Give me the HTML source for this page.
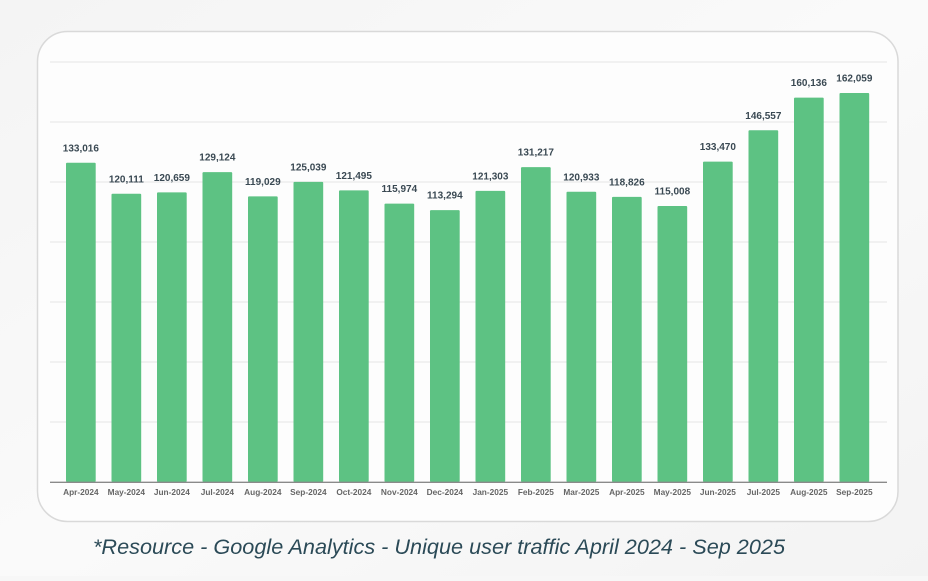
<!DOCTYPE html>
<html><head><meta charset="utf-8"><style>
html,body{margin:0;padding:0;}
body{width:928px;height:576px;overflow:hidden;background:#f7f7f7;font-family:"Liberation Sans",Arial,sans-serif;}
</style></head><body>
<svg width="928" height="576" viewBox="0 0 928 576" xmlns="http://www.w3.org/2000/svg">
<defs>
<linearGradient id="bg" x1="0" y1="0" x2="1" y2="1">
<stop offset="0" stop-color="#f4f4f4"/><stop offset="0.5" stop-color="#fafafa"/><stop offset="1" stop-color="#f3f3f3"/>
</linearGradient>
</defs>
<rect x="0" y="0" width="928" height="576" fill="url(#bg)"/>
<rect x="37.5" y="31.5" width="860.5" height="490" rx="30" ry="30" fill="#fdfdfd" stroke="#d9d9d9" stroke-width="1.5"/>
<g stroke="#e5e5e5" stroke-width="1">
<line x1="50" y1="62" x2="887" y2="62"/>
<line x1="50" y1="122" x2="887" y2="122"/>
<line x1="50" y1="182" x2="887" y2="182"/>
<line x1="50" y1="242" x2="887" y2="242"/>
<line x1="50" y1="302" x2="887" y2="302"/>
<line x1="50" y1="362" x2="887" y2="362"/>
<line x1="50" y1="422" x2="887" y2="422"/>
</g>
<g fill="#5dc283">
<rect x="66" y="162.76" width="29.7" height="319.24" rx="1"/>
<rect x="111.5" y="193.73" width="29.7" height="288.27" rx="1"/>
<rect x="157" y="192.42" width="29.7" height="289.58" rx="1"/>
<rect x="202.5" y="172.10" width="29.7" height="309.90" rx="1"/>
<rect x="248" y="196.33" width="29.7" height="285.67" rx="1"/>
<rect x="293.5" y="181.91" width="29.7" height="300.09" rx="1"/>
<rect x="339" y="190.41" width="29.7" height="291.59" rx="1"/>
<rect x="384.5" y="203.66" width="29.7" height="278.34" rx="1"/>
<rect x="430" y="210.09" width="29.7" height="271.91" rx="1"/>
<rect x="475.5" y="190.87" width="29.7" height="291.13" rx="1"/>
<rect x="521" y="167.08" width="29.7" height="314.92" rx="1"/>
<rect x="566.5" y="191.76" width="29.7" height="290.24" rx="1"/>
<rect x="612" y="196.82" width="29.7" height="285.18" rx="1"/>
<rect x="657.5" y="205.98" width="29.7" height="276.02" rx="1"/>
<rect x="703" y="161.67" width="29.7" height="320.33" rx="1"/>
<rect x="748.5" y="130.26" width="29.7" height="351.74" rx="1"/>
<rect x="794" y="97.67" width="29.7" height="384.33" rx="1"/>
<rect x="839.5" y="93.06" width="29.7" height="388.94" rx="1"/>
</g>
<line x1="50" y1="482.3" x2="887" y2="482.3" stroke="#8a8a8a" stroke-width="1.4"/>
<g font-family="Liberation Sans, Arial, sans-serif" font-weight="bold" font-size="10" fill="#3a4953" text-anchor="middle">
<text x="80.85" y="151.3">133,016</text>
<text x="126.35" y="182.3">120,111</text>
<text x="171.85" y="181">120,659</text>
<text x="217.35" y="160.7">129,124</text>
<text x="262.85" y="184.9">119,029</text>
<text x="308.35" y="170.5">125,039</text>
<text x="353.85" y="179">121,495</text>
<text x="399.35" y="192.2">115,974</text>
<text x="444.85" y="198.7">113,294</text>
<text x="490.35" y="179.4">121,303</text>
<text x="535.85" y="155.6">131,217</text>
<text x="581.35" y="180.3">120,933</text>
<text x="626.85" y="185.4">118,826</text>
<text x="672.35" y="194.5">115,008</text>
<text x="717.85" y="150.2">133,470</text>
<text x="763.35" y="118.8">146,557</text>
<text x="808.85" y="86.2">160,136</text>
<text x="854.35" y="81.6">162,059</text>
</g>
<g font-family="Liberation Sans, Arial, sans-serif" font-weight="bold" font-size="8.3" fill="#666666" text-anchor="middle">
<text x="80.85" y="495">Apr-2024</text>
<text x="126.35" y="495">May-2024</text>
<text x="171.85" y="495">Jun-2024</text>
<text x="217.35" y="495">Jul-2024</text>
<text x="262.85" y="495">Aug-2024</text>
<text x="308.35" y="495">Sep-2024</text>
<text x="353.85" y="495">Oct-2024</text>
<text x="399.35" y="495">Nov-2024</text>
<text x="444.85" y="495">Dec-2024</text>
<text x="490.35" y="495">Jan-2025</text>
<text x="535.85" y="495">Feb-2025</text>
<text x="581.35" y="495">Mar-2025</text>
<text x="626.85" y="495">Apr-2025</text>
<text x="672.35" y="495">May-2025</text>
<text x="717.85" y="495">Jun-2025</text>
<text x="763.35" y="495">Jul-2025</text>
<text x="808.85" y="495">Aug-2025</text>
<text x="854.35" y="495">Sep-2025</text>
</g>
<text x="93" y="554" font-family="Liberation Sans, Arial, sans-serif" font-style="italic" font-size="21" fill="#2b4a57" textLength="692" lengthAdjust="spacingAndGlyphs">*Resource - Google Analytics - Unique user traffic April 2024 - Sep 2025</text>
</svg>
</body></html>
